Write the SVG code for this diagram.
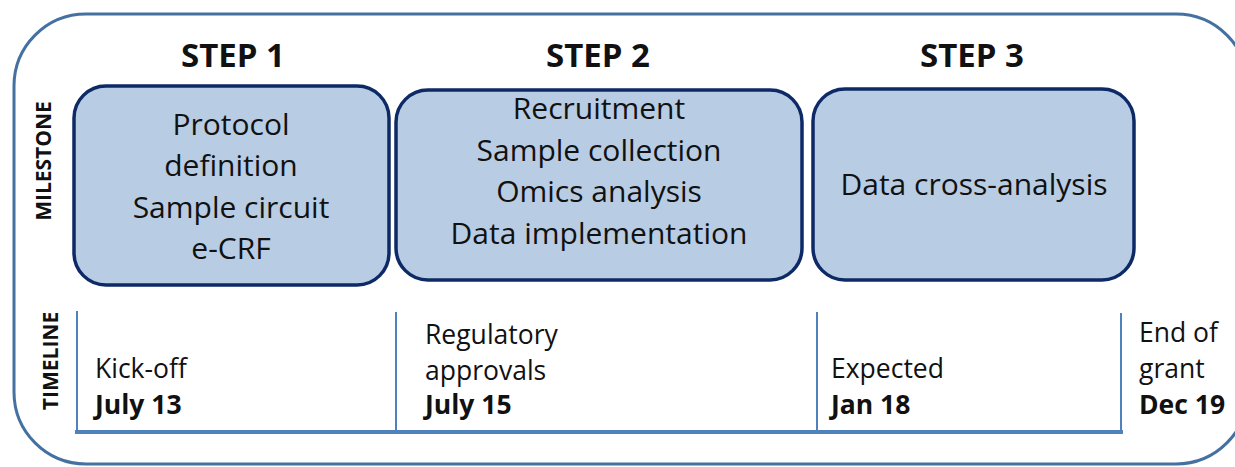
<svg xmlns="http://www.w3.org/2000/svg" width="1235" height="467" viewBox="0 0 1235 467">
<style>
.frame{fill:none;stroke:#4471A0;stroke-width:3}
.box{fill:#B8CCE4;stroke:#0E2A66;stroke-width:3.5}
.t{font-family:"Open Sans","Liberation Sans",sans-serif;fill:#111}
.step{font-size:33px;font-weight:bold;text-anchor:middle}
.ms{font-size:30px;text-anchor:middle}
.side{font-size:21px;font-weight:bold;text-anchor:middle}
.tl{font-size:26.5px}
.b{font-weight:bold}
.vl{stroke:#4F81BD;stroke-width:2}
.hl{stroke:#4F81BD;stroke-width:4}
</style>
<rect class="frame" x="14" y="14" width="1234" height="450" rx="72"/>
<g id="labels">
<text class="t side" transform="translate(51,161) rotate(-90)">MILESTONE</text>
<text class="t side" transform="translate(58,361) rotate(-90)">TIMELINE</text>
</g>
<g id="step1">
<text class="t step" x="233" y="67">STEP 1</text>
<rect class="box" x="74" y="86" width="315" height="199" rx="32"/>
<text class="t ms" x="231" y="135">Protocol</text>
<text class="t ms" x="231" y="176">definition</text>
<text class="t ms" x="231" y="218">Sample circuit</text>
<text class="t ms" x="231" y="259">e-CRF</text>
</g>
<g id="step2">
<text class="t step" x="598" y="67">STEP 2</text>
<rect class="box" x="396" y="90" width="406" height="190" rx="32"/>
<text class="t ms" x="599" y="119">Recruitment</text>
<text class="t ms" x="599" y="161">Sample collection</text>
<text class="t ms" x="599" y="202">Omics analysis</text>
<text class="t ms" x="599" y="244">Data implementation</text>
</g>
<g id="step3">
<text class="t step" x="972" y="67">STEP 3</text>
<rect class="box" x="813" y="89" width="321" height="191" rx="32"/>
<text class="t ms" x="974" y="195">Data cross-analysis</text>
</g>
<g id="connectors">
<line class="vl" x1="77" y1="311" x2="77" y2="432"/>
<line class="vl" x1="396" y1="312" x2="396" y2="432"/>
<line class="vl" x1="817" y1="312" x2="817" y2="432"/>
<line class="vl" x1="1121" y1="313" x2="1121" y2="432"/>
<line class="hl" x1="75" y1="432" x2="1123" y2="432"/>
</g>
<g id="timeline">
<text class="t tl" x="95" y="378">Kick-off</text>
<text class="t tl b" x="95" y="414">July 13</text>
<text class="t tl" x="425" y="344">Regulatory</text>
<text class="t tl" x="425" y="380">approvals</text>
<text class="t tl b" x="425" y="414">July 15</text>
<text class="t tl" x="831" y="378">Expected</text>
<text class="t tl b" x="831" y="414">Jan 18</text>
<text class="t tl" x="1139" y="342">End of</text>
<text class="t tl" x="1139" y="378">grant</text>
<text class="t tl b" x="1139" y="414">Dec 19</text>
</g>
</svg>
